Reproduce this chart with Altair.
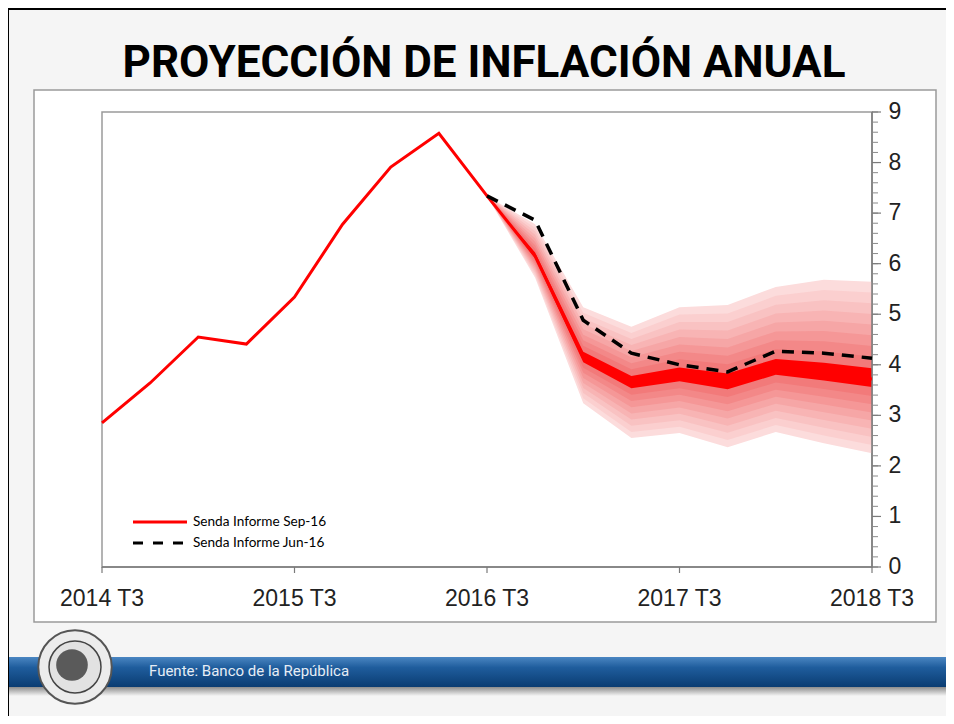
import altair as alt
import pandas as pd

# ---------------- data ----------------
quarter_labels = ["2014 T3", "2014 T4", "2015 T1", "2015 T2", "2015 T3", "2015 T4",
                  "2016 T1", "2016 T2", "2016 T3", "2016 T4", "2017 T1", "2017 T2",
                  "2017 T3", "2017 T4", "2018 T1", "2018 T2", "2018 T3"]
sep16 = [2.85, 3.64, 4.55, 4.41, 5.34, 6.78, 7.91, 8.58, 7.34,
         6.15, 4.15, 3.66, 3.80, 3.66, 3.94, 3.84, 3.72]
forecast_start = 8
jun16 = [7.34, 6.86, 4.88, 4.23, 4.00, 3.86, 4.27, 4.23, 4.13]
fan_upper = [7.34, 6.78, 5.14, 4.75, 5.14, 5.18, 5.54, 5.68, 5.64]
fan_lower = [7.34, 5.72, 3.24, 2.55, 2.65, 2.37, 2.67, 2.45, 2.25]
y_tick_values = [0, 1, 2, 3, 4, 5, 6, 7, 8, 9]
x_tick_quarters = [0, 4, 8, 12, 16]
x_tick_labels = ["2014 T3", "2015 T3", "2016 T3", "2017 T3", "2018 T3"]
legend_labels = ["Senda Informe Sep-16", "Senda Informe Jun-16"]
title_text = "PROYECCIÓN DE INFLACIÓN ANUAL"
source_text = "Fuente: Banco de la República"

# fan shading (style): fraction of outer spread and colour, outer -> inner
band_fracs = [1.0, 0.89, 0.78, 0.67, 0.56, 0.45, 0.34, 0.23, 0.11]
band_colors = ["#fcdcdc", "#fbcfcf", "#f9c2c2", "#f8b4b4", "#f6a6a6",
               "#f59797", "#f38888", "#f27a7a", "#ff0000"]

# ---------------- scales ----------------
X = alt.Scale(domain=[0, 16], range=[94, 864], nice=False, zero=False)
Y = alt.Scale(domain=[0, 9], range=[559, 104], nice=False, zero=False)

def xq(f="q"):
    return alt.X(f"{f}:Q", scale=X, axis=None)

def yv(f="v"):
    return alt.Y(f"{f}:Q", scale=Y, axis=None)

one = alt.Data(values=[{"a": 1}])

layers = []

# slide frame (black lines)
layers.append(alt.Chart(one).mark_rule(color="#000", strokeWidth=2).encode(
    x=alt.value(0), x2=alt.value(938), y=alt.value(1), y2=alt.value(1)))
layers.append(alt.Chart(one).mark_rule(color="#000", strokeWidth=2).encode(
    x=alt.value(0), x2=alt.value(0), y=alt.value(1), y2=alt.value(708)))

# white panel
layers.append(alt.Chart(one).mark_rect(fill="white", stroke="#9a9a9a", strokeWidth=1.5).encode(
    x=alt.value(26), x2=alt.value(928), y=alt.value(82), y2=alt.value(614)))

# footer shadow + blue band
layers.append(alt.Chart(one).mark_rect(
    color=alt.Gradient(gradient="linear", x1=0, y1=0, x2=0, y2=1,
                       stops=[alt.GradientStop(color="#8c8c8c", offset=0),
                              alt.GradientStop(color="#f5f5f5", offset=1)])).encode(
    x=alt.value(1), x2=alt.value(938), y=alt.value(679), y2=alt.value(688)))
layers.append(alt.Chart(one).mark_rect(
    color=alt.Gradient(gradient="linear", x1=0, y1=0, x2=0, y2=1,
                       stops=[alt.GradientStop(color="#4a86c2", offset=0),
                              alt.GradientStop(color="#1f5d9d", offset=0.35),
                              alt.GradientStop(color="#0a3c72", offset=1)])).encode(
    x=alt.value(1), x2=alt.value(938), y=alt.value(649), y2=alt.value(679)))

# coin logo
layers.append(alt.Chart(one).mark_point(shape="circle", filled=True, fill="#ececec",
                                        stroke="#555", strokeWidth=2, opacity=1, size=5400).encode(
    x=alt.value(67), y=alt.value(659)))
layers.append(alt.Chart(one).mark_point(shape="circle", filled=True, fill="#e2e2e2",
                                        stroke="#444", strokeWidth=1.5, opacity=1, size=2700).encode(
    x=alt.value(67), y=alt.value(659)))
layers.append(alt.Chart(one).mark_point(shape="circle", filled=True, fill="#5a5a5a",
                                        opacity=1, size=1000).encode(
    x=alt.value(64), y=alt.value(657)))

# footer text
layers.append(alt.Chart(one).mark_text(text=source_text, align="left", baseline="alphabetic",
                                       font="Roboto", fontSize=15,
                                       color="#e6edf5").encode(
    x=alt.value(141), y=alt.value(668)))

# title
layers.append(alt.Chart(one).mark_text(text=title_text, align="center", baseline="alphabetic",
                                       font="Roboto", fontWeight="bold",
                                       fontSize=44, color="#000").encode(
    x=alt.value(476), y=alt.value(69)))

# plot frame
frame_df = pd.DataFrame({"q": [0], "q2": [16], "v": [0], "v2": [9]})
layers.append(alt.Chart(frame_df).mark_rect(fill="white", stroke="#9a9a9a", strokeWidth=1.5).encode(
    x=xq(), x2="q2:Q", y=yv(), y2="v2:Q"))

# fan bands
for frac, col in zip(band_fracs, band_colors):
    rows = []
    for i, (c, hi, lo) in enumerate(zip(sep16[forecast_start:], fan_upper, fan_lower)):
        rows.append({"q": forecast_start + i,
                     "lo": c - frac * (c - lo),
                     "hi": c + frac * (hi - c)})
    layers.append(alt.Chart(pd.DataFrame(rows)).mark_area(color=col, opacity=1).encode(
        x=xq(), y=yv("lo"), y2="hi:Q"))

# axis lines
axis_df = pd.DataFrame({"q": [16], "v": [0], "v2": [9]})
layers.append(alt.Chart(axis_df).mark_rule(color="#7a7a7a", strokeWidth=1.5).encode(
    x=xq(), y=yv(), y2="v2:Q"))
bottom_df = pd.DataFrame({"q": [0], "q2": [16], "v": [0]})
layers.append(alt.Chart(bottom_df).mark_rule(color="#7a7a7a", strokeWidth=1.5).encode(
    x=xq(), x2="q2:Q", y=yv()))

# right axis ticks
minor_df = pd.DataFrame({"v": [i / 5 for i in range(46)]})
layers.append(alt.Chart(minor_df).mark_rule(color="#8a8a8a", strokeWidth=1).encode(
    x=alt.value(864), x2=alt.value(870), y=yv()))
ytick_df = pd.DataFrame({"v": y_tick_values, "label": [str(t) for t in y_tick_values]})
layers.append(alt.Chart(ytick_df).mark_rule(color="#7a7a7a", strokeWidth=1.2).encode(
    x=alt.value(864), x2=alt.value(873), y=yv()))
layers.append(alt.Chart(ytick_df).mark_text(align="center", baseline="middle",
                                           font="Liberation Sans", fontSize=23,
                                           color="#222").encode(
    x=alt.value(887), y=yv(), text="label:N"))

# bottom ticks / labels
xtick_df = pd.DataFrame({"q": x_tick_quarters, "label": x_tick_labels})
layers.append(alt.Chart(xtick_df).mark_rule(color="#7a7a7a", strokeWidth=1.2).encode(
    x=xq(), y=alt.value(559), y2=alt.value(565)))
layers.append(alt.Chart(xtick_df).mark_text(align="center", baseline="middle",
                                           font="Liberation Sans", fontSize=23,
                                           color="#222").encode(
    x=xq(), y=alt.value(591), text="label:N"))

# series lines
sep_df = pd.DataFrame({"q": list(range(len(sep16))), "v": sep16})
layers.append(alt.Chart(sep_df).mark_line(color="#ff0000", strokeWidth=3).encode(
    x=xq(), y=yv()))
jun_df = pd.DataFrame({"q": [forecast_start + i for i in range(len(jun16))], "v": jun16})
layers.append(alt.Chart(jun_df).mark_line(color="#000", strokeWidth=3.5,
                                          strokeDash=[12, 8]).encode(
    x=xq(), y=yv()))

# legend
layers.append(alt.Chart(one).mark_rule(color="#ff0000", strokeWidth=3).encode(
    x=alt.value(125), x2=alt.value(179), y=alt.value(514), y2=alt.value(514)))
layers.append(alt.Chart(one).mark_rule(color="#000", strokeWidth=3, strokeDash=[10, 10]).encode(
    x=alt.value(125), x2=alt.value(179), y=alt.value(535), y2=alt.value(535)))
leg_df = pd.DataFrame({"label": legend_labels, "yy": [514, 535]})
layers.append(alt.Chart(leg_df).mark_text(align="left", baseline="middle",
                                         font="Lato", fontSize=13.6, color="#000").encode(
    x=alt.value(185), y=alt.Y("yy:Q", scale=None, axis=None), text="label:N"))

chart = alt.layer(*layers).properties(
    width=938, height=708,
    autosize=alt.AutoSizeParams(type="none"),
    padding=0,
    background="#f5f5f5",
).configure_view(stroke=None)

chart.save("out.html", embed_options={"renderer": "svg", "actions": False})
